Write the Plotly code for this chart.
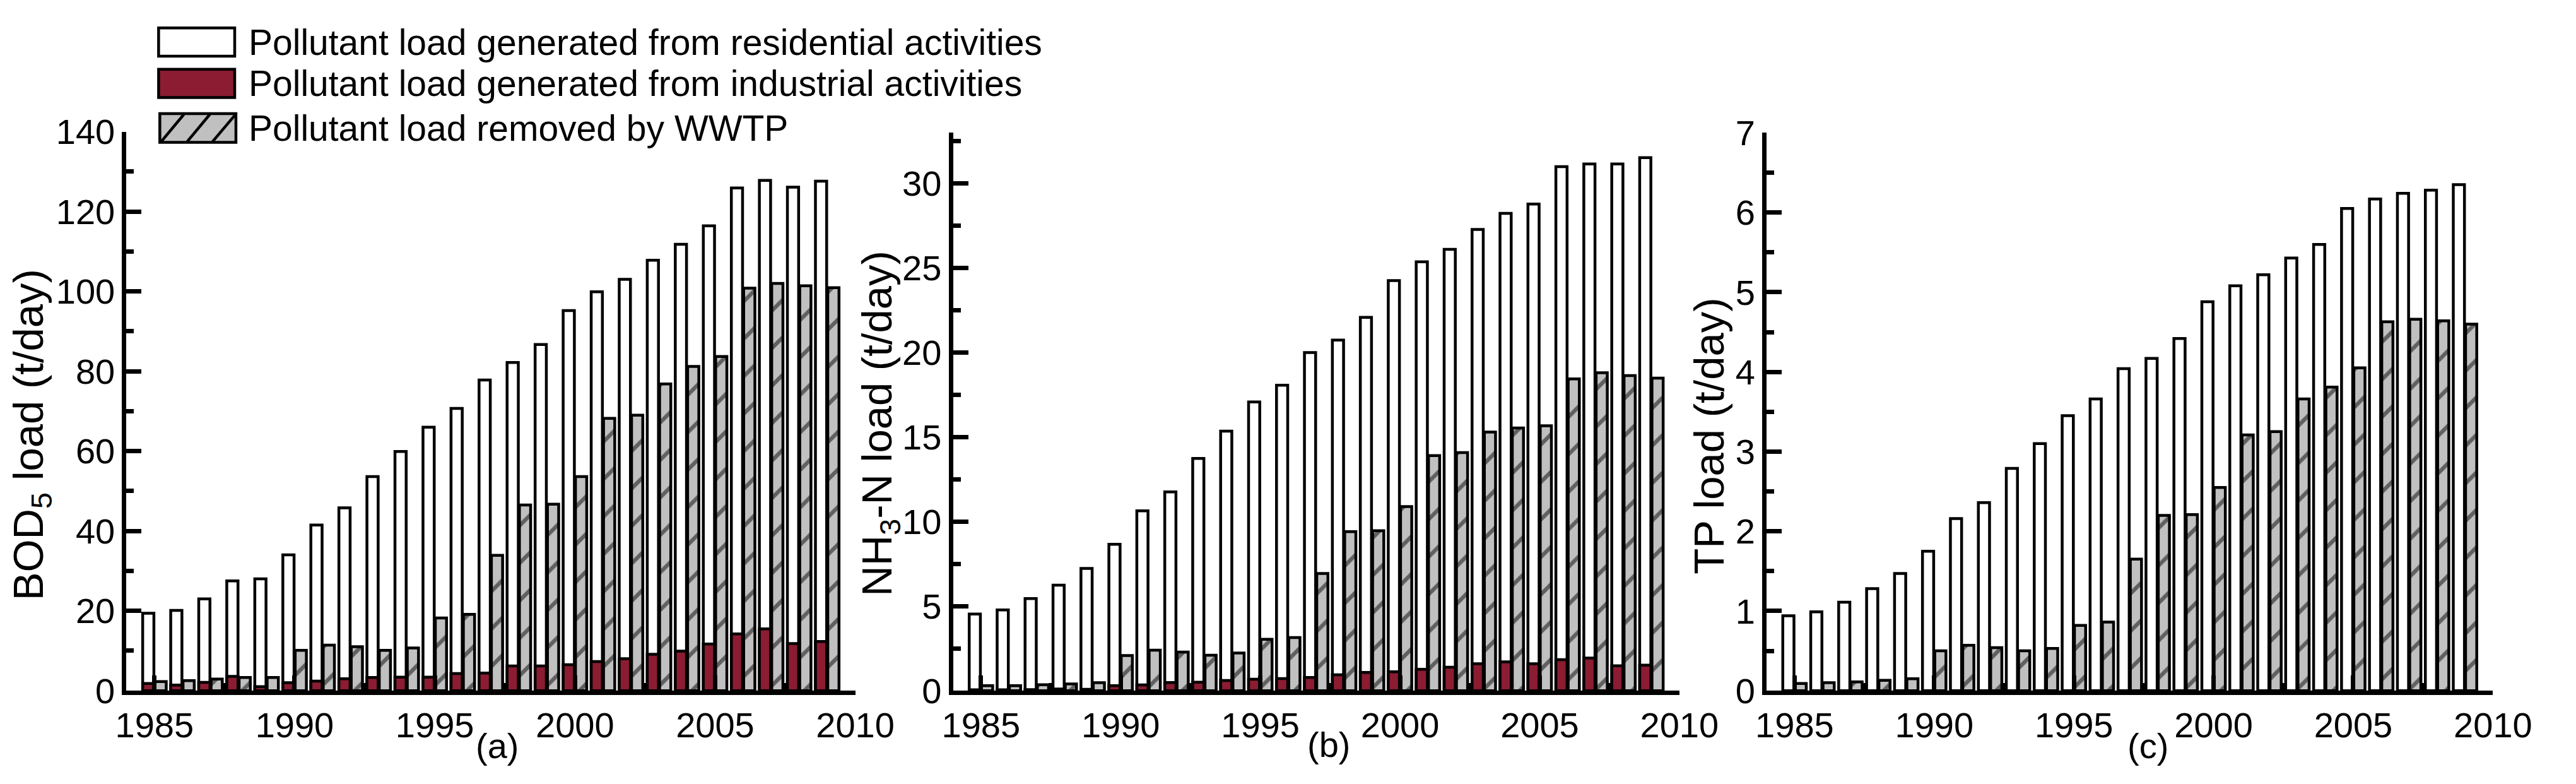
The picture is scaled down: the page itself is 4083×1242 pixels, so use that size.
import plotly.graph_objects as go

# ---------------- data ----------------
years = list(range(1985, 2010))

res_bod = [19.4, 20.1, 23.0, 27.5, 28.0, 34.0, 41.5, 45.8, 53.6, 59.9, 66.0, 70.7, 77.8,
           82.2, 86.7, 95.2, 99.9, 103.0, 107.8, 111.8, 116.4, 125.9, 127.8, 126.1, 127.6]
ind_bod = [1.8, 1.4, 2.1, 3.6, 1.0, 2.0, 2.4, 3.0, 3.3, 3.4, 3.4, 4.3, 4.4,
           6.2, 6.2, 6.5, 7.3, 8.0, 9.1, 9.9, 11.7, 14.2, 15.5, 11.8, 12.3]
rem_bod = [2.3, 2.5, 2.9, 3.3, 3.3, 10.1, 11.4, 11.0, 10.1, 10.7, 18.2, 19.1, 33.9,
           46.5, 46.7, 53.6, 68.2, 69.0, 76.8, 81.2, 83.7, 100.8, 102.0, 101.4, 100.9]

res_nh3 = [4.53, 4.78, 5.45, 6.24, 7.23, 8.66, 10.64, 11.76, 13.74, 15.35, 17.08, 18.07, 20.0,
           20.74, 22.08, 24.26, 25.37, 26.11, 27.28, 28.24, 28.79, 31.0, 31.16, 31.16, 31.53]
ind_nh3 = [0.05, 0.05, 0.06, 0.1, 0.08, 0.3, 0.34, 0.48, 0.5, 0.6, 0.68, 0.72, 0.78,
           0.94, 1.08, 1.12, 1.27, 1.39, 1.59, 1.71, 1.59, 1.84, 1.93, 1.47, 1.51]
rem_nh3 = [0.3, 0.3, 0.35, 0.4, 0.47, 2.08, 2.4, 2.28, 2.1, 2.23, 3.04, 3.14, 6.93,
           9.41, 9.46, 10.89, 13.91, 14.08, 15.3, 15.54, 15.67, 18.44, 18.81, 18.64, 18.49]

res_tp = [0.94, 0.99, 1.11, 1.28, 1.47, 1.75, 2.16, 2.36, 2.79, 3.10, 3.45, 3.66, 4.04,
          4.17, 4.42, 4.88, 5.08, 5.22, 5.43, 5.60, 6.05, 6.17, 6.24, 6.28, 6.35]
rem_tp = [0.09, 0.10, 0.11, 0.13, 0.15, 0.50, 0.57, 0.54, 0.50, 0.53, 0.82, 0.86, 1.65,
          2.20, 2.21, 2.55, 3.21, 3.25, 3.66, 3.81, 4.05, 4.63, 4.66, 4.64, 4.60]

legend_labels = ["Pollutant load generated from residential activities",
                 "Pollutant load generated from industrial activities",
                 "Pollutant load removed by WWTP"]
y_titles = ["BOD<sub>5</sub> load (t/day)", "NH<sub>3</sub>-N load (t/day)", "TP load (t/day)"]
captions = ["(a)", "(b)", "(c)"]

# ---------------- styling ----------------
W, H = 4083, 1242
FONT = "Arial, Liberation Sans, sans-serif"
RED = "#8b1c32"
GRAY = "#c0c0c0"
BAR_W = 0.4
OUT_W = 4.5

def px(x):
    return x / W

def py(y):
    return 1 - y / H

fig = go.Figure()

panels = [
    dict(res=res_bod, ind=ind_bod, rem=rem_bod, xd=(187, 1365), ytop=187, yr=[0, 140], dt=20, mdt=10),
    dict(res=res_nh3, ind=ind_nh3, rem=rem_nh3, xd=(1523, 2697), ytop=189, yr=[0, 33], dt=5, mdt=2.5),
    dict(res=res_tp, ind=None, rem=rem_tp, xd=(2838, 4012), ytop=189, yr=[0, 7], dt=1, mdt=0.5),
]
YBOT = 1120

layout_axes = {}
for i, p in enumerate(panels):
    sfx = "" if i == 0 else str(i + 1)
    xa, ya = "x" + sfx, "y" + sfx
    fig.add_trace(go.Bar(x=years, y=p["res"], xaxis=xa, yaxis=ya, width=BAR_W, offset=-0.42,
                         marker=dict(color="white", line=dict(color="black", width=OUT_W)),
                         name=legend_labels[0], showlegend=False))
    if p["ind"] is not None:
        fig.add_trace(go.Bar(x=years, y=p["ind"], xaxis=xa, yaxis=ya, width=BAR_W, offset=-0.42,
                             marker=dict(color=RED, line=dict(color="black", width=OUT_W)),
                             name=legend_labels[1], showlegend=False))
    fig.add_trace(go.Bar(x=years, y=p["rem"], xaxis=xa, yaxis=ya, width=BAR_W, offset=0.02,
                         marker=dict(color=GRAY, line=dict(color="black", width=OUT_W),
                                     pattern=dict(shape="/", fgcolor="black", bgcolor=GRAY,
                                                  size=42, solidity=0.15)),
                         name=legend_labels[2], showlegend=False))

    common = dict(showline=True, linecolor="black", linewidth=7, showgrid=False, zeroline=False,
                  ticks="inside", ticklen=24, tickwidth=7, tickcolor="black",
                  tickfont=dict(family=FONT, size=56, color="black"))
    layout_axes["xaxis" + sfx] = dict(
        domain=[px(p["xd"][0]), px(p["xd"][1])], anchor=ya, range=[1984, 2010],
        tickmode="linear", tick0=1985, dtick=5,
        minor=dict(ticks="inside", dtick=2.5, tick0=1985, ticklen=12, tickwidth=7, tickcolor="black"),
        **common)
    layout_axes["yaxis" + sfx] = dict(
        domain=[py(YBOT), py(p["ytop"])], anchor=xa, range=p["yr"],
        tickmode="linear", tick0=0, dtick=p["dt"],
        minor=dict(ticks="inside", dtick=p["mdt"], tick0=0, ticklen=12, tickwidth=7, tickcolor="black"),
        **common)

annotations = []
title_pos = [(33, 693), (1405, 674), (2745, 695)]
cap_pos = [(786, 1212), (2130, 1210), (3454, 1212)]
for i in range(3):
    annotations.append(dict(text=y_titles[i], x=px(title_pos[i][0]), y=py(title_pos[i][1]),
                            xref="paper", yref="paper", textangle=-90, showarrow=False,
                            xanchor="center", yanchor="middle",
                            font=dict(family=FONT, size=67, color="black")))
    annotations.append(dict(text=captions[i], x=px(cap_pos[i][0]), y=py(cap_pos[i][1]),
                            xref="paper", yref="paper", showarrow=False,
                            xanchor="center", yanchor="middle",
                            font=dict(family=FONT, size=56, color="black")))

# custom legend (large swatches)
shapes = []
boxes = [(239, 362, 14, 61, "white"), (239, 362, 83, 130, RED), (241, 364, 157, 205, GRAY)]
for (x0, x1, y0, y1, col), lab in zip(boxes, legend_labels):
    shapes.append(dict(type="rect", xref="paper", yref="paper", x0=px(x0), x1=px(x1),
                       y0=py(y1), y1=py(y0), fillcolor=col, line=dict(color="black", width=4.5)))
    annotations.append(dict(text=lab, x=px(382), y=py((y0 + y1) / 2), xref="paper", yref="paper",
                            showarrow=False, xanchor="left", yanchor="middle",
                            font=dict(family=FONT, size=57, color="black")))
for (ax, ay, bx, by) in [(243, 204, 280, 158), (285, 204, 322, 158), (326, 204, 362, 160)]:
    shapes.append(dict(type="line", xref="paper", yref="paper", x0=px(ax), y0=py(ay),
                       x1=px(bx), y1=py(by), line=dict(color="black", width=4.5)))

fig.update_layout(
    width=W, height=H, margin=dict(l=0, r=0, t=0, b=0),
    paper_bgcolor="white", plot_bgcolor="white",
    barmode="overlay", showlegend=False,
    annotations=annotations, shapes=shapes,
    font=dict(family=FONT, color="black"),
    **layout_axes,
)

fig.write_html("out.html")
